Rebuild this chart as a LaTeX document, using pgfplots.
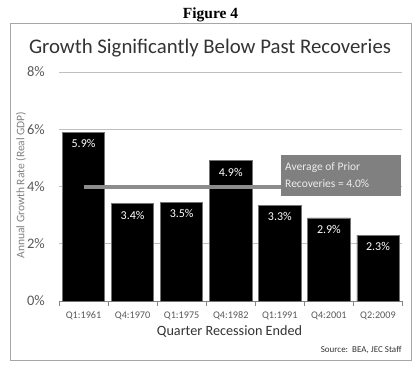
\documentclass[border=0pt]{standalone}
\usepackage{pgfplots}
\pgfplotsset{compat=1.18}
\usepackage{fontspec}
\setmainfont{Carlito}
\newfontfamily\figfont{Liberation Serif}
\definecolor{frame}{HTML}{A6A6A6}
\definecolor{gridc}{HTML}{BFBFBF}
\definecolor{axisc}{HTML}{868686}
\definecolor{tickc}{HTML}{595959}
\definecolor{titlec}{HTML}{333333}
\definecolor{ylabc}{HTML}{808080}
\definecolor{avgc}{HTML}{8C8C8C}
\definecolor{boxc}{HTML}{808080}
\definecolor{boxtext}{HTML}{EDEDED}
\begin{document}
\begin{tikzpicture}
% frame
\draw[frame, line width=1pt] (10pt,-24pt) rectangle (411pt,-360pt);
\begin{axis}[
  at={(59pt,-301pt)}, anchor=south west,
  scale only axis, width=343.5pt, height=229pt,
  xmin=-0.5, xmax=6.5, ymin=0, ymax=8,
  axis lines*=left,
  y axis line style={draw=none},
  x axis line style={axisc, line width=0.8pt},
  ytick={0,2,4,6,8},
  yticklabel={\pgfmathprintnumber{\tick}\%},
  /pgf/number format/assume math mode=true,
  yticklabel style={font=\fontsize{14.5}{14.5}\selectfont, color=tickc, inner sep=0pt, xshift=-14pt},
  xtick={0,...,6},
  xticklabels={Q1:1961,Q4:1970,Q1:1975,Q4:1982,Q1:1991,Q4:2001,Q2:2009},
  xticklabel style={font=\fontsize{10.2}{10.2}\selectfont, color=tickc, inner sep=0pt, yshift=-10.7pt},
  minor xtick={-0.5,0.5,...,6.5},
  tick align=outside,
  major tick length=0pt, minor tick length=5pt,
  minor tick style={axisc, line width=0.6pt},
  ytick style={draw=none},
  ymajorgrids, major grid style={gridc, line width=0.7pt},
  clip=false,
]
\addplot[ybar, bar width=0.86, fill=black, draw=black!55, line width=0.6pt,
  nodes near coords={\pgfmathprintnumber[fixed,precision=1,fixed zerofill]{\pgfplotspointmeta}\%},
  every node near coord/.append style={anchor=base, yshift=-15.6pt, text=white, font=\fontsize{12}{12}\selectfont}
] coordinates {(0,5.9) (1,3.4) (2,3.45) (3,4.9) (4,3.34) (5,2.9) (6,2.3)};
\addplot[avgc, line width=4pt] coordinates {(0,4) (4.02,4)};
\end{axis}
% average box
\fill[boxc] (281pt,-155pt) rectangle (401pt,-196pt);
\node[anchor=base west, inner sep=0pt, text=boxtext, font=\fontsize{11.5}{11.5}\selectfont] at (285pt,-170.7pt) {Average of Prior};
\node[anchor=base west, inner sep=0pt, text=boxtext, font=\fontsize{11.5}{11.5}\selectfont] at (285pt,-187.3pt) {Recoveries = 4.0\%};
% texts
\node[anchor=base, inner sep=0pt, font=\figfont\bfseries\fontsize{15.5}{15.5}\selectfont] at (210.5pt,-18.3pt) {Figure 4};
\node[anchor=base, inner sep=0pt, text=titlec, font=\fontsize{20.8}{20.8}\selectfont] at (210pt,-53.5pt) {Growth Significantly Below Past Recoveries};
\node[anchor=center, inner sep=0pt, rotate=90, text=ylabc, font=\fontsize{11.5}{11.5}\selectfont] at (21pt,-185pt) {Annual Growth Rate (Real GDP)};
\node[anchor=base, inner sep=0pt, text=titlec, font=\fontsize{14.2}{14.2}\selectfont] at (229.5pt,-335.7pt) {Quarter Recession Ended};
\node[anchor=base east, inner sep=0pt, text=titlec, font=\fontsize{9}{9}\selectfont] at (401.7pt,-352.3pt) {Source:\ \ BEA, JEC Staff};
\pgfresetboundingbox
\path[use as bounding box] (0pt,0pt) rectangle (418pt,-366pt);
\end{tikzpicture}
\end{document}
